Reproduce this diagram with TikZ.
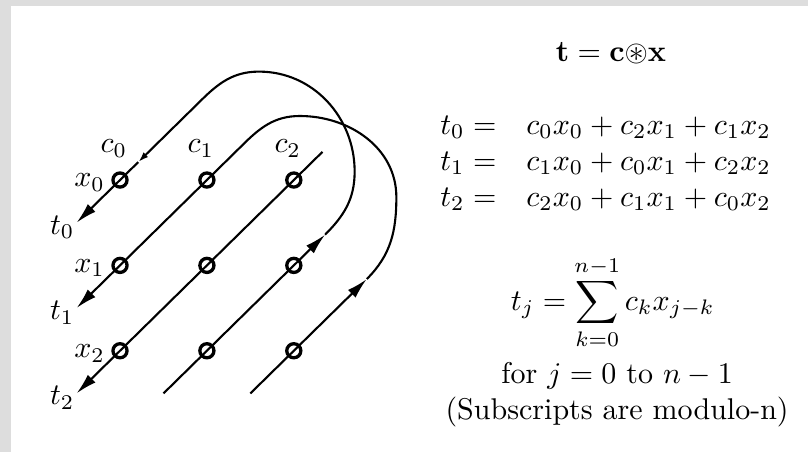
\documentclass[tikz,border=0pt]{standalone}
\usepackage{amsmath,amssymb}
\usetikzlibrary{arrows.meta}
\definecolor{framegray}{RGB}{221,221,221}
\begin{document}
\begin{tikzpicture}[x=1.018cm,y=1cm,
  cell/.style={draw,circle,line width=1.1pt,minimum size=4.7pt,inner sep=0pt},
  wire/.style={line width=0.7pt},
  arr/.style={wire,-{Latex[length=7pt,width=3.6pt]}},
  tick/.style={wire,-{Latex[length=3.5pt,width=2.2pt]}}]
  \useasboundingbox (-1.381,-3.187) rectangle (7.917,2.109);
  \fill[framegray] (-1.381,-3.187) rectangle (7.917,2.109);
  \fill[white] (-1.254,-3.187) rectangle (7.917,2.039);
  \foreach \r in {0,1,2} \foreach \c in {0,1,2} \node[cell] (m\r\c) at (\c,-\r) {};
  \foreach \c in {0,1,2} \node (cl\c) at (\c-0.07,0.37) {$c_{\c}$};
  \foreach \r in {0,1,2} \node (xl\r) at (-0.35,-\r-0.03) {$x_{\r}$};
  \foreach \r in {0,1,2} \coordinate (e\r) at (-0.5,-\r-0.5);
  \foreach \r in {0,1,2} \node[left,inner sep=0.5pt,yshift=-1.5pt] (t\r) at (e\r) {$t_{\r}$};
  \coordinate (s1) at (0.5,-2.5);
  \coordinate (s2) at (1.5,-2.5);
  \coordinate (s3) at (2.33,0.33);
  \coordinate (j1) at (2.36,-0.64);
  \coordinate (j2) at (2.84,-1.16);
  \coordinate (r1) at (2.7,0.1);
  \coordinate (r2) at (3.18,-0.2);
  \coordinate (h1) at (1.6,1.27);
  \coordinate (h2) at (2.07,0.75);
  \coordinate (k1) at (0.92,0.92);
  \coordinate (k2) at (1.4,0.4);
  \coordinate (q0) at (0.21,0.21);
  \draw[arr] (s1) -- (m21.center) -- (m12.center) -- (j1);
  \draw[tick] (j1) to[out=45,in=-90] (r1) to[out=90,in=0] (h1) to[out=180,in=45] (k1) -- (q0);
  \draw[arr] (q0) -- (m00.center) -- (e0);
  \draw[arr] (s2) -- (m22.center) -- (j2);
  \draw[arr] (j2) to[out=45,in=-90] (r2) to[out=90,in=0] (h2) to[out=180,in=45] (k2) -- (m01.center) -- (m10.center) -- (e1);
  \draw[arr] (s3) -- (m02.center) -- (m11.center) -- (m20.center) -- (e2);
  \node (conv) at (5.65,1.48) {$\mathbf{t}=\mathbf{c}{\circledast}\mathbf{x}$};
  \node[anchor=west,inner sep=0pt] (eqs) at (3.68,0.2) {$\begin{array}{@{}r@{\;=\quad}l@{}}
    t_0 & c_0x_0+c_2x_1+c_1x_2\\
    t_1 & c_1x_0+c_0x_1+c_2x_2\\
    t_2 & c_2x_0+c_1x_1+c_0x_2
  \end{array}$};
  \node (sum) at (5.67,-1.44) {$t_j=\displaystyle\sum_{k=0}^{n-1}c_kx_{j-k}$};
  \node[align=center] (note) at (5.72,-2.52) {for $j=0$ to $n-1$\\(Subscripts are modulo-n)};
\end{tikzpicture}
\end{document}
